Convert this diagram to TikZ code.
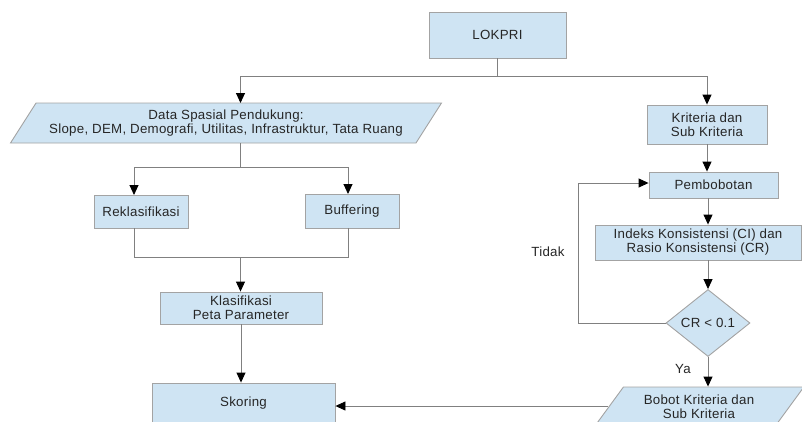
\documentclass[tikz,border=0pt]{standalone}
\usepackage{fontspec}
\setmainfont{Liberation Sans}[LetterSpace=2]
\usetikzlibrary{arrows.meta,shapes.geometric}
\definecolor{boxfill}{HTML}{CFE4F3}
\definecolor{boxline}{HTML}{A3A3A3}
\definecolor{conn}{HTML}{808080}
\begin{document}
\begin{tikzpicture}[x=1pt,y=-1pt,
  txt/.style={font=\fontsize{13.3}{14}\selectfont, align=center, text=black!85},
  box/.style={txt, draw=boxline, fill=boxfill, line width=0.9pt, inner sep=0pt, rectangle},
  para/.style={box, trapezium, trapezium left angle=48, trapezium right angle=132, trapezium stretches=true},
  decide/.style={box, diamond, aspect=1.25},
  line/.style={draw=conn, line width=0.9pt},
  arr/.style={line, -{Triangle[length=10pt,width=9pt,fill=black,color=black]}}]
\useasboundingbox (0,0) rectangle (802,421);
\clip (0,0) rectangle (802,421);
% nodes
\node[box, minimum width=137pt, minimum height=46pt] (lok) at (497.5,35) {LOKPRI};
\node[para, minimum width=432pt, minimum height=40pt] (data) at (226,123) {Data Spasial Pendukung:\\Slope, DEM, Demografi, Utilitas, Infrastruktur, Tata Ruang};
\node[box, minimum width=120pt, minimum height=39pt] (krit) at (707,124.5) {Kriteria dan\\Sub Kriteria};
\node[box, minimum width=94pt, minimum height=33pt] (rek) at (141,211.5) {Reklasifikasi};
\node[box, minimum width=94pt, minimum height=34pt] (buf) at (352,211) {Buffering};
\node[box, minimum width=162pt, minimum height=32pt] (kla) at (241,308) {Klasifikasi\\Peta Parameter};
\node[box, minimum width=183pt, minimum height=40pt] (sko) at (243.5,403) {Skoring};
\node[box, minimum width=129pt, minimum height=26pt] (pem) at (713.5,185) {Pembobotan};
\node[box, minimum width=206pt, minimum height=35pt] (idx) at (698,242.5) {Indeks Konsistensi (CI) dan\\Rasio Konsistensi (CR)};
\node[decide, minimum width=84pt, minimum height=67pt] (dia) at (708,323) {CR < 0.1};
\node[para, minimum width=210pt, minimum height=40pt] (bob) at (699,407) {Bobot Kriteria dan\\Sub Kriteria};
\node[txt] (tidak) at (548,252) {Tidak};
\node[txt] (ya) at (683,369) {Ya};
% junctions
\coordinate (j1) at (497.5,76);
\coordinate (dtop) at (240.5,103);
\coordinate (dbot) at (240.5,143);
\coordinate (j2) at (240.5,167);
\coordinate (rtop) at (134,195);
\coordinate (btop) at (348,194);
\coordinate (rbot) at (134,228);
\coordinate (bbot) at (348,228);
\coordinate (j3) at (240.5,257);
\coordinate (loop) at (578,183);
% connectors
\draw[line] (lok.south) -- (j1);
\draw[arr] (j1) -| (dtop);
\draw[arr] (j1) -| (krit.north);
\draw[line] (dbot) -- (j2);
\draw[arr] (j2) -| (rtop);
\draw[arr] (j2) -| (btop);
\draw[line] (rbot) |- (j3);
\draw[line] (bbot) |- (j3);
\draw[arr] (j3) -- (j3 |- kla.north);
\draw[arr] (kla.south) -- (kla.south |- sko.north);
\draw[arr] (krit.south) -- (krit.south |- pem.north);
\draw[arr] (pem.south -| dia.north) -- (dia.north |- idx.north);
\draw[arr] (dia.north |- idx.south) -- (dia.north);
\draw[arr] (dia.west) -| (loop) -- (loop -| pem.west);
\draw[arr] (dia.south) -- (dia.south |- bob.north);
\draw[arr] (bob.west |- 0,406) -- (sko.east |- 0,406);
\end{tikzpicture}
\end{document}
